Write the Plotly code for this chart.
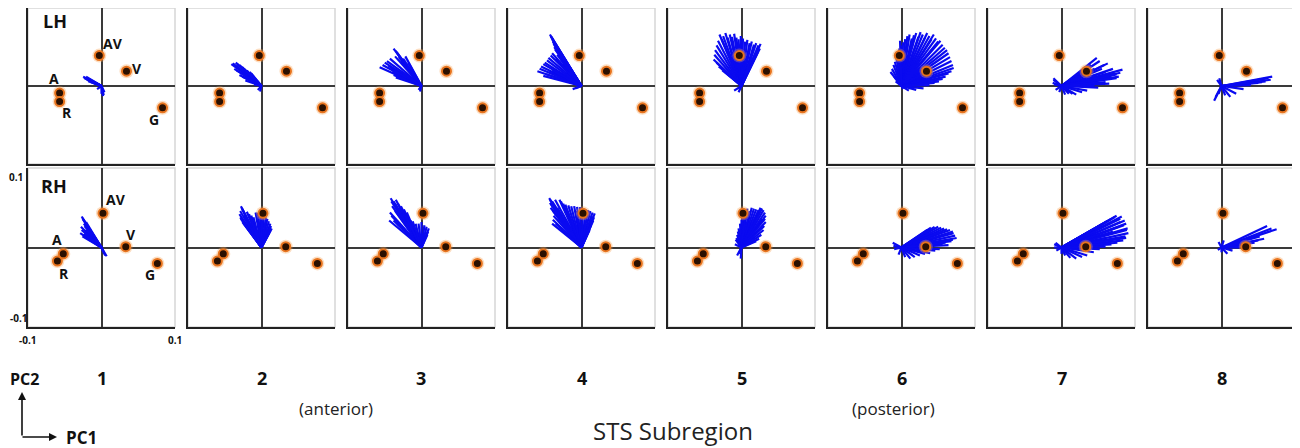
import plotly.graph_objects as go

# ---------------- data ----------------
region_labels = ["1", "2", "3", "4", "5", "6", "7", "8"]
point_names = ["A", "R", "AV", "V", "G"]
axis_tick_vals = [-0.1, 0.1]
axis_tick_text = ["-0.1", "0.1"]

lh_points_x = [-0.057, -0.057, -0.003, 0.034, 0.083]
lh_points_y = [-0.009, -0.020, 0.039, 0.019, -0.028]
rh_points_x = [-0.052, -0.060, 0.002, 0.033, 0.076]
rh_points_y = [-0.008, -0.017, 0.043, 0.001, -0.020]

# fan tips (x, y) for each STS subregion, left hemisphere
lh1_tips = [(-0.025, 0.012), (-0.023, 0.010), (-0.020, 0.008), (-0.017, 0.009), (-0.014, 0.005),
            (-0.010, 0.004), (-0.006, -0.004), (0.000, -0.010), (0.003, -0.012), (0.004, -0.008),
            (-0.024, 0.011), (-0.021, 0.012), (-0.018, 0.006), (-0.012, 0.006), (0.002, -0.013)]
lh2_tips = [(-0.041, 0.028), (-0.035, 0.030), (-0.030, 0.027), (-0.026, 0.024), (-0.020, 0.020),
            (-0.014, 0.016), (-0.037, 0.022), (-0.030, 0.014), (-0.022, 0.007), (-0.010, 0.002),
            (-0.005, -0.005), (-0.002, -0.007), (-0.039, 0.029), (-0.033, 0.028), (-0.028, 0.025),
            (-0.034, 0.020), (-0.026, 0.012), (-0.018, 0.009), (-0.016, 0.018), (-0.024, 0.022)]
lh3_tips = [(-0.038, 0.048), (-0.033, 0.042), (-0.031, 0.037), (-0.043, 0.035), (-0.050, 0.030),
            (-0.057, 0.024), (-0.045, 0.026), (-0.028, 0.032), (-0.022, 0.038), (-0.018, 0.030),
            (-0.040, 0.018), (-0.035, 0.011), (-0.020, 0.010), (-0.004, -0.005), (-0.002, -0.007),
            (-0.035, 0.045), (-0.036, 0.038), (-0.047, 0.032), (-0.053, 0.027), (-0.042, 0.022),
            (-0.038, 0.014), (-0.030, 0.020), (-0.025, 0.035)]
lh4_tips = [(-0.043, 0.066), (-0.040, 0.060), (-0.038, 0.054), (-0.036, 0.047), (-0.040, 0.042),
            (-0.033, 0.040), (-0.045, 0.036), (-0.050, 0.030), (-0.055, 0.025), (-0.060, 0.019),
            (-0.052, 0.013), (-0.045, 0.018), (-0.030, 0.030), (-0.025, 0.028), (-0.008, -0.003),
            (-0.012, -0.004), (-0.041, 0.063), (-0.035, 0.052), (-0.042, 0.064), (-0.039, 0.057),
            (-0.037, 0.050), (-0.042, 0.039), (-0.047, 0.033), (-0.052, 0.028), (-0.057, 0.022),
            (-0.048, 0.015), (-0.040, 0.020), (-0.035, 0.035), (-0.028, 0.034)]
lh5_tips = [(-0.038, 0.034), (-0.037, 0.040), (-0.036, 0.046), (-0.034, 0.052), (-0.032, 0.058),
            (-0.030, 0.066), (-0.027, 0.060), (-0.025, 0.064), (-0.022, 0.068), (-0.019, 0.062),
            (-0.016, 0.066), (-0.013, 0.063), (-0.010, 0.067), (-0.007, 0.062), (-0.004, 0.060),
            (-0.001, 0.064), (0.002, 0.061), (0.005, 0.057), (0.008, 0.059), (0.011, 0.055),
            (0.014, 0.057), (0.017, 0.053), (0.020, 0.055), (0.023, 0.052), (0.026, 0.054),
            (0.025, 0.048), (0.022, 0.043), (0.019, 0.040), (0.014, 0.038), (-0.031, 0.025),
            (-0.026, 0.020), (-0.020, 0.016), (-0.010, -0.006), (-0.004, -0.008), (-0.034, 0.030)]
lh6_tips = [(-0.015, 0.018), (-0.013, 0.022), (-0.011, 0.027), (-0.009, 0.031), (-0.007, 0.036),
            (-0.005, 0.042), (-0.003, 0.048), (0.000, 0.052), (0.002, 0.056), (0.005, 0.060),
            (0.008, 0.064), (0.011, 0.066), (0.014, 0.061), (0.017, 0.065), (0.020, 0.068),
            (0.023, 0.063), (0.026, 0.069), (0.029, 0.066), (0.032, 0.062), (0.035, 0.068),
            (0.038, 0.064), (0.041, 0.060), (0.044, 0.066), (0.047, 0.061), (0.050, 0.057),
            (0.053, 0.058), (0.056, 0.053), (0.059, 0.049), (0.062, 0.046), (0.064, 0.042),
            (0.066, 0.037), (0.068, 0.032), (0.070, 0.027), (0.071, 0.023), (0.068, 0.019),
            (0.064, 0.016), (0.060, 0.012), (0.056, 0.009), (0.051, 0.006), (0.045, 0.004),
            (0.038, 0.001), (0.030, -0.003), (0.020, -0.005), (0.010, -0.006), (0.002, -0.004),
            (-0.008, 0.006), (-0.010, 0.012), (-0.002, 0.058)]
lh7_tips = [(-0.011, 0.008), (-0.010, 0.002), (-0.008, -0.005), (0.010, -0.010), (0.020, -0.011),
            (0.035, -0.006), (0.050, -0.002), (0.065, 0.003), (0.075, 0.010), (0.080, 0.017),
            (0.083, 0.021), (0.070, 0.022), (0.063, 0.029), (0.058, 0.027), (0.052, 0.032),
            (0.048, 0.036), (0.040, 0.027), (0.030, 0.020), (0.020, 0.010), (0.072, 0.016),
            (0.058, 0.008), (0.044, 0.004), (0.028, -0.008), (0.068, 0.012), (0.025, 0.012),
            (0.035, 0.018), (0.045, 0.022), (0.055, 0.022), (0.060, 0.018), (0.065, 0.015),
            (0.075, 0.015), (0.078, 0.012), (0.060, 0.005), (0.045, 0.000), (0.015, -0.010),
            (0.005, -0.011), (-0.003, -0.008), (-0.012, 0.004), (-0.011, 0.010)]
lh8_tips = [(0.069, 0.012), (0.067, 0.008), (0.060, 0.006), (0.050, 0.004), (0.040, 0.001),
            (0.030, -0.004), (0.020, -0.010), (0.012, -0.014), (0.005, -0.012), (-0.004, -0.010),
            (-0.010, -0.019), (-0.006, 0.008), (-0.003, 0.010), (-0.008, -0.014), (0.064, 0.010),
            (0.055, 0.005)]

# right hemisphere
rh1_tips = [(-0.027, 0.039), (-0.025, 0.035), (-0.024, 0.030), (-0.028, 0.026), (-0.022, 0.022),
            (-0.029, 0.018), (-0.026, 0.014), (-0.020, 0.012), (-0.015, 0.010), (0.004, -0.008),
            (0.007, -0.011), (-0.026, 0.037), (-0.023, 0.027), (-0.027, 0.022), (-0.024, 0.017),
            (-0.021, 0.032), (0.005, -0.010)]
rh2_tips = [(-0.028, 0.052), (-0.026, 0.048), (-0.030, 0.042), (-0.028, 0.036), (-0.024, 0.030),
            (-0.018, 0.024), (-0.020, 0.045), (-0.014, 0.040), (-0.008, 0.044), (-0.002, 0.045),
            (0.003, 0.040), (0.008, 0.036), (0.012, 0.030), (0.014, 0.024), (0.010, 0.018),
            (-0.027, 0.050), (-0.024, 0.040), (-0.011, 0.038), (-0.029, 0.046), (-0.029, 0.038),
            (-0.026, 0.032), (-0.021, 0.027), (-0.017, 0.042), (-0.005, 0.044), (0.001, 0.042),
            (0.006, 0.038), (0.010, 0.033), (0.013, 0.027), (0.012, 0.021)]
rh3_tips = [(-0.042, 0.062), (-0.038, 0.058), (-0.035, 0.060), (-0.032, 0.055), (-0.028, 0.052),
            (-0.024, 0.048), (-0.020, 0.044), (-0.040, 0.052), (-0.044, 0.034), (-0.038, 0.034),
            (-0.015, 0.034), (-0.008, 0.030), (0.004, 0.028), (0.010, 0.024), (0.008, 0.016),
            (-0.041, 0.058), (-0.036, 0.046), (-0.030, 0.044), (-0.020, 0.036), (0.000, 0.032),
            (-0.043, 0.044), (-0.041, 0.040), (-0.036, 0.055), (-0.030, 0.050), (-0.026, 0.046),
            (-0.022, 0.040), (-0.012, 0.033), (-0.004, 0.030), (0.007, 0.026), (0.009, 0.020),
            (-0.033, 0.030)]
rh4_tips = [(-0.044, 0.062), (-0.040, 0.058), (-0.036, 0.060), (-0.030, 0.060), (-0.025, 0.055),
            (-0.018, 0.053), (-0.010, 0.052), (-0.002, 0.051), (0.006, 0.048), (0.012, 0.046),
            (0.018, 0.043), (0.016, 0.034), (0.011, 0.022), (-0.042, 0.050), (-0.038, 0.040),
            (-0.040, 0.030), (-0.030, 0.026), (-0.043, 0.056), (-0.033, 0.050), (-0.020, 0.046),
            (-0.006, 0.046), (0.014, 0.040), (-0.043, 0.060), (-0.041, 0.054), (-0.039, 0.046),
            (-0.039, 0.035), (-0.035, 0.030), (-0.028, 0.058), (-0.022, 0.054), (-0.014, 0.052),
            (-0.006, 0.051), (0.002, 0.049), (0.009, 0.047), (0.015, 0.044), (0.017, 0.038),
            (0.013, 0.028)]
rh5_tips = [(-0.006, 0.016), (-0.004, 0.024), (0.000, 0.035), (0.004, 0.045), (0.008, 0.049),
            (0.014, 0.050), (0.020, 0.048), (0.026, 0.050), (0.030, 0.047), (0.033, 0.040),
            (0.033, 0.032), (0.030, 0.022), (0.024, 0.011), (-0.004, -0.008), (-0.001, -0.014),
            (-0.008, 0.010), (0.011, 0.046), (0.023, 0.044), (0.028, 0.036), (-0.007, 0.012),
            (-0.005, 0.020), (-0.002, 0.030), (0.002, 0.040), (0.006, 0.047), (0.017, 0.049),
            (0.023, 0.047), (0.028, 0.049), (0.032, 0.044), (0.032, 0.036), (0.031, 0.027),
            (0.027, 0.016), (0.020, 0.008), (-0.006, -0.010), (-0.009, 0.004)]
rh6_tips = [(-0.012, 0.006), (-0.010, -0.002), (-0.004, -0.009), (0.012, -0.014), (0.025, -0.010),
            (0.039, -0.007), (0.052, -0.002), (0.064, 0.003), (0.075, 0.012), (0.071, 0.018),
            (0.066, 0.022), (0.058, 0.024), (0.050, 0.026), (0.040, 0.025), (0.030, 0.018),
            (0.020, 0.010), (0.068, 0.008), (0.056, 0.004), (0.045, 0.012), (0.035, 0.006),
            (0.025, 0.014), (0.035, 0.022), (0.045, 0.026), (0.054, 0.025), (0.062, 0.023),
            (0.070, 0.020), (0.073, 0.015), (0.070, 0.010), (0.060, 0.006), (0.046, -0.004),
            (0.032, -0.008), (0.018, -0.012), (0.005, -0.012), (-0.011, 0.002)]
rh7_tips = [(-0.010, 0.004), (-0.007, -0.004), (0.005, -0.010), (0.020, -0.014), (0.035, -0.010),
            (0.052, -0.002), (0.068, 0.004), (0.084, 0.009), (0.091, 0.018), (0.090, 0.024),
            (0.088, 0.030), (0.086, 0.034), (0.082, 0.039), (0.075, 0.040), (0.068, 0.036),
            (0.057, 0.030), (0.045, 0.022), (0.030, 0.014), (0.078, 0.026), (0.070, 0.020),
            (0.060, 0.012), (0.087, 0.014), (0.080, 0.032), (0.040, 0.020), (0.050, 0.026),
            (0.062, 0.033), (0.072, 0.038), (0.080, 0.036), (0.085, 0.028), (0.089, 0.022),
            (0.088, 0.012), (0.076, 0.006), (0.060, 0.001), (0.044, -0.006), (0.028, -0.012),
            (0.012, -0.013), (0.000, -0.008), (-0.010, 0.000), (-0.008, 0.006)]
rh8_tips = [(0.062, 0.027), (0.075, 0.023), (0.058, 0.011), (0.045, 0.006), (0.035, 0.003),
            (0.025, 0.000), (0.015, -0.004), (0.008, -0.008), (0.000, -0.006), (-0.005, -0.003),
            (-0.004, 0.007), (0.003, 0.009), (0.050, 0.009), (0.068, 0.024), (0.052, 0.014)]

lh_fans = [lh1_tips, lh2_tips, lh3_tips, lh4_tips, lh5_tips, lh6_tips, lh7_tips, lh8_tips]
rh_fans = [rh1_tips, rh2_tips, rh3_tips, rh4_tips, rh5_tips, rh6_tips, rh7_tips, rh8_tips]

# ---------------- layout helpers ----------------
OFF = 8                      # page body margin
W, H = 1300 - OFF, 448 - OFF
FAN_COLOR = "#0a0af0"
AX_RANGE = [-0.1, 0.1]

fig = go.Figure()


def px_x(p):
    return (p - OFF) / W


def px_y(p):
    return 1 - (p - OFF) / H


row_specs = [(lh_fans, lh_points_x, lh_points_y, 5, 164),
             (rh_fans, rh_points_x, rh_points_y, 168, 327)]

idx = 0
for r, (fans, px_, py_, top, bot) in enumerate(row_specs):
    for c in range(8):
        idx += 1
        sfx = "" if idx == 1 else str(idx)
        xa, ya = "x" + sfx, "y" + sfx
        left = 28 + 160 * c
        right = left + 147
        is_corner = (r == 1 and c == 0)
        common = dict(range=AX_RANGE, showgrid=False, zeroline=True, zerolinecolor="#3a3a3a",
                      zerolinewidth=1.6, showline=True, linecolor="#222", linewidth=1.5, mirror=False,
                      showticklabels=False, ticks="", fixedrange=True, automargin=False)
        fig.update_layout({
            "xaxis" + sfx: dict(domain=[max(px_x(left), 0), min(px_x(right), 1)], anchor=ya, **common),
            "yaxis" + sfx: dict(domain=[px_y(bot), min(px_y(top), 1)], anchor=xa, **common),
        })
        # light frame on top/right
        fig.add_shape(type="rect", xref=xa + " domain", yref=ya + " domain", x0=0, x1=1, y0=0, y1=1,
                      line=dict(color="#d6d6d6", width=1.5), layer="below")
        # fan
        fx, fy = [], []
        for tx, ty in fans[c]:
            fx += [0, tx, None]
            fy += [0, ty, None]
        fig.add_trace(go.Scatter(x=fx, y=fy, mode="lines", xaxis=xa, yaxis=ya,
                                 line=dict(color=FAN_COLOR, width=2.2), hoverinfo="skip", showlegend=False))
        # points: halo + dot
        fig.add_trace(go.Scatter(x=px_, y=py_, mode="markers", xaxis=xa, yaxis=ya,
                                 marker=dict(size=14, color="rgba(245,160,80,0.35)", line=dict(width=0)),
                                 hoverinfo="skip", showlegend=False))
        fig.add_trace(go.Scatter(x=px_, y=py_, mode="markers", xaxis=xa, yaxis=ya, text=point_names,
                                 marker=dict(size=9, color="#2a1000", line=dict(color="#e8741e", width=2)),
                                 hoverinfo="text", showlegend=False))

annotations = []
lab_font = dict(family="Open Sans", size=14, color="#111")
tick_font = dict(family="Open Sans", size=10, color="#111")
C = dict(xanchor="center", yanchor="middle", showarrow=False)

# tick labels of the bottom-left panel (placed via its own axes)
annotations += [
    dict(x=0, xref="x9 domain", y=axis_tick_vals[1], yref="y9", text="<b>%s</b>" % axis_tick_text[1],
         xanchor="right", yanchor="top", xshift=-3, showarrow=False, font=tick_font),
    dict(x=0, xref="paper", y=axis_tick_vals[0], yref="y9", text="<b>%s</b>" % axis_tick_text[0],
         xanchor="left", yanchor="bottom", showarrow=False, font=tick_font),
    dict(x=axis_tick_vals[0], xref="x9", y=0, yref="y9 domain", text="<b>%s</b>" % axis_tick_text[0],
         xanchor="center", yanchor="top", yshift=-4, showarrow=False, font=tick_font),
    dict(x=axis_tick_vals[1], xref="x9", y=0, yref="y9 domain", text="<b>%s</b>" % axis_tick_text[1],
         xanchor="center", yanchor="top", yshift=-4, showarrow=False, font=tick_font),
]

# point labels in first column
lh_label_offsets = {"A": (-0.007, 0.019), "R": (0.0105, -0.014), "AV": (0.018, 0.016),
                    "V": (0.0144, 0.003), "G": (-0.012, -0.0146)}
rh_label_offsets = {"A": (-0.008, 0.0176), "R": (0.009, -0.016), "AV": (0.018, 0.0176),
                    "V": (0.0068, 0.0155), "G": (-0.0095, -0.0138)}
for sfx, pxs, pys, offs in [("", lh_points_x, lh_points_y, lh_label_offsets),
                            ("9", rh_points_x, rh_points_y, rh_label_offsets)]:
    for n, x, y in zip(point_names, pxs, pys):
        dx, dy = offs[n]
        annotations.append(dict(x=x + dx, y=y + dy, xref="x" + sfx, yref="y" + sfx, text="<b>%s</b>" % n,
                                font=lab_font, **C))

annotations.append(dict(x=-0.0633, y=0.0833, xref="x", yref="y", text="<b>LH</b>",
                        font=dict(family="Open Sans", size=18, color="#111"), **C))
annotations.append(dict(x=-0.064, y=0.0774, xref="x9", yref="y9", text="<b>RH</b>",
                        font=dict(family="Open Sans", size=18, color="#111"), **C))

# column numbers
for c, lab in enumerate(region_labels):
    annotations.append(dict(x=px_x(101.5 + 160 * c), y=px_y(378), xref="paper", yref="paper",
                            text="<b>%s</b>" % lab, font=dict(family="Open Sans", size=18, color="#111"), **C))

annotations += [
    dict(x=px_x(336), y=px_y(408), xref="paper", yref="paper", text="(anterior)",
         font=dict(family="Open Sans", size=17, color="#222"), **C),
    dict(x=px_x(893), y=px_y(408), xref="paper", yref="paper", text="(posterior)",
         font=dict(family="Open Sans", size=17, color="#222"), **C),
    dict(x=px_x(673), y=px_y(430), xref="paper", yref="paper", text="STS Subregion",
         font=dict(family="Open Sans", size=24, color="#222"), **C),
    dict(x=0, y=px_y(379), xref="paper", yref="paper", text="<b>PC2</b>", xanchor="left", yanchor="middle",
         showarrow=False, font=dict(family="Open Sans", size=16, color="#111")),
    dict(x=px_x(81), y=px_y(437), xref="paper", yref="paper", text="<b>PC1</b>",
         font=dict(family="Open Sans", size=17, color="#111"), **C),
    dict(x=px_x(22), y=px_y(392), xref="paper", yref="paper", ax=0, ay=45, axref="pixel", ayref="pixel",
         text="", showarrow=True, arrowhead=2, arrowsize=1, arrowwidth=1.6, arrowcolor="#111"),
    dict(x=px_x(57), y=px_y(437), xref="paper", yref="paper", ax=-36, ay=0, axref="pixel", ayref="pixel",
         text="", showarrow=True, arrowhead=2, arrowsize=1, arrowwidth=1.6, arrowcolor="#111"),
]

fig.update_layout(width=W, height=H, margin=dict(l=0, r=0, t=0, b=0),
                  paper_bgcolor="white", plot_bgcolor="white", annotations=annotations,
                  showlegend=False)

fig.write_html("out.html")
